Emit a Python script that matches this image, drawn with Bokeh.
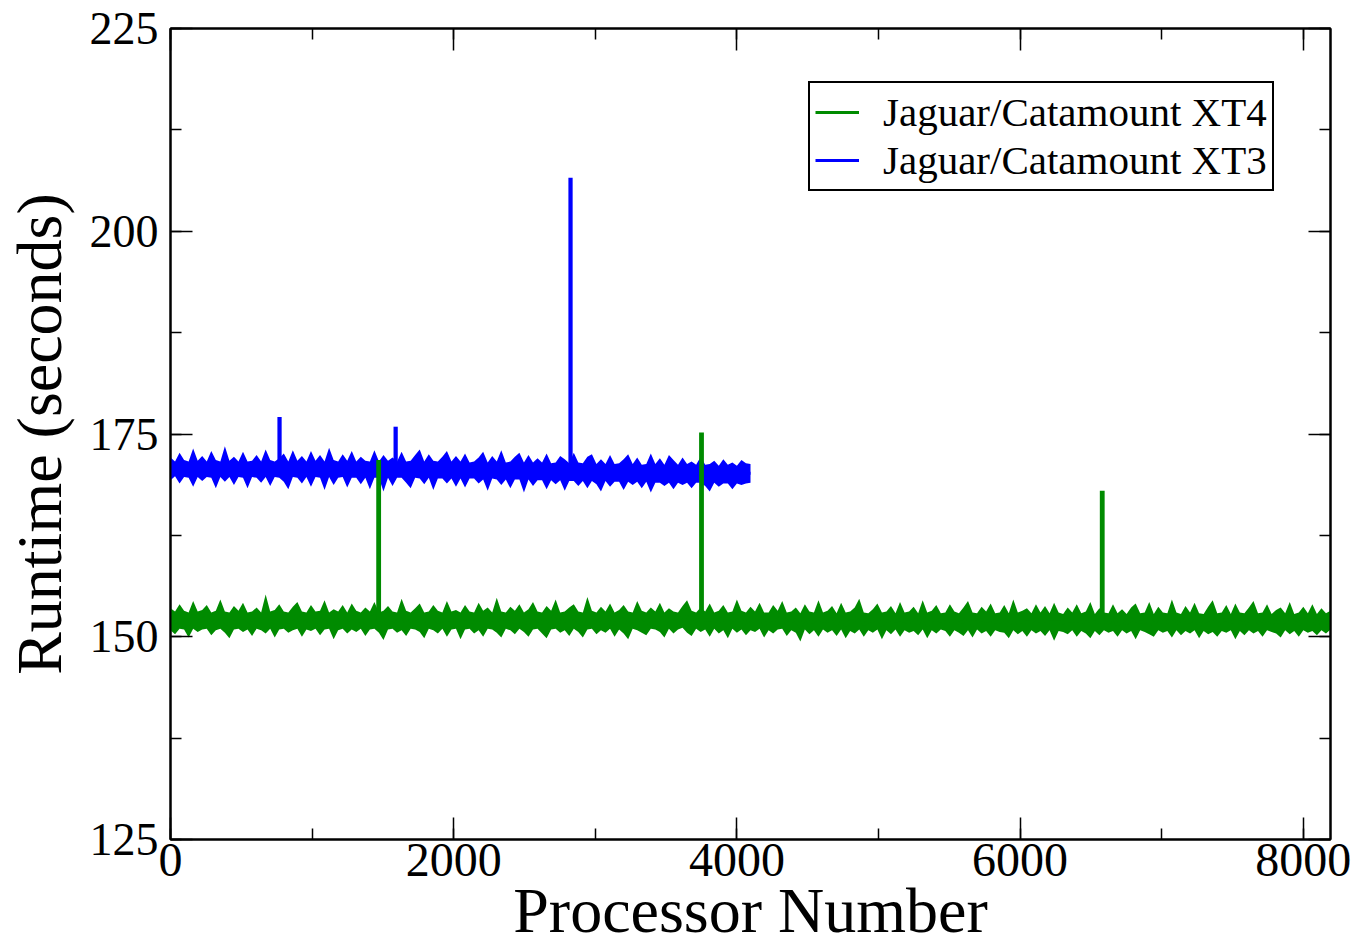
from bokeh.plotting import figure
from bokeh.models import (Range1d, SingleIntervalTicker, LinearAxis, Legend, LegendItem,
                          CustomLabelingPolicy)
from bokeh.embed import file_html
from bokeh.resources import INLINE

# ---------------- data ----------------
STEP = 32
xt4_proc = list(range(0, 8193, STEP))
xt4_upper = [
    153.5,153.1,154.0,153.2,153.0,154.4,153.1,153.3,153.9,153.0,153.2,154.6,153.1,153.0,153.8,153.2,
    154.2,153.0,153.1,153.6,153.0,155.2,153.1,153.3,154.0,153.1,153.0,153.7,154.3,153.1,153.0,153.9,
    153.1,153.2,154.5,153.0,153.4,153.1,153.9,153.0,154.1,153.2,153.0,153.6,153.1,154.3,153.0,153.2,
    153.8,153.1,153.0,154.7,153.2,153.0,153.5,154.1,153.0,153.1,153.9,153.2,153.0,154.4,153.1,153.3,
    153.0,153.9,153.1,153.0,154.2,153.2,153.6,153.0,154.8,153.1,153.0,153.7,153.2,154.0,153.0,153.4,
    154.3,153.1,153.0,153.8,153.2,154.6,153.0,153.1,153.6,154.0,153.1,153.0,154.9,153.2,153.0,153.7,
    153.1,154.1,153.0,153.3,153.9,153.1,153.0,154.4,153.2,153.0,153.6,153.1,154.2,153.0,153.5,153.1,
    153.0,153.8,154.5,153.2,153.0,153.6,153.1,154.1,153.0,153.2,153.9,153.0,153.1,154.6,153.2,153.0,
    153.7,153.1,154.2,153.0,153.0,153.9,153.2,154.4,153.0,153.1,153.6,152.9,154.0,153.1,153.0,154.5,
    153.0,153.2,153.8,152.9,154.2,153.0,153.1,153.6,154.7,153.0,152.9,153.4,154.1,153.0,153.1,153.8,
    152.9,154.3,153.0,153.1,153.7,152.9,154.5,153.0,153.2,153.9,152.9,153.0,154.0,153.1,152.9,153.6,
    154.4,153.0,152.9,153.7,153.1,154.1,152.9,153.0,153.9,152.9,154.6,153.0,153.2,153.5,152.9,154.0,
    153.0,153.8,152.9,154.2,153.0,152.8,153.6,153.0,154.0,152.9,153.1,154.3,152.8,153.5,153.0,152.9,
    154.0,152.9,153.4,152.8,153.6,154.1,152.9,153.0,154.3,152.8,153.7,153.0,152.9,154.6,153.0,152.8,
    153.8,153.0,154.2,152.9,152.8,153.7,154.5,152.9,153.0,153.9,152.8,154.1,153.0,152.9,153.6,154.4,
    152.9,153.0,154.0,152.8,153.3,153.6,152.9,154.3,152.8,153.0,153.7,152.9,154.0,152.8,153.5,152.9,
    153.2,
]
xt4_lower = [
    150.8,150.3,151.0,150.9,149.9,151.0,150.6,150.9,151.0,150.2,150.8,151.0,150.5,149.8,150.9,151.0,
    150.6,150.9,150.1,151.0,150.8,150.4,151.0,149.9,150.9,151.0,150.5,150.8,151.0,150.0,150.9,150.7,
    151.0,150.2,150.9,151.0,149.7,150.8,151.0,150.4,150.9,150.6,151.0,150.1,150.9,151.0,150.5,149.6,
    150.9,151.0,150.5,150.8,150.1,151.0,150.9,150.6,149.8,151.0,150.8,150.4,151.0,150.0,150.9,151.0,
    149.7,150.9,151.0,150.4,150.8,150.0,151.0,150.9,150.5,149.9,151.0,150.8,150.3,151.0,150.6,150.0,
    150.9,151.0,150.4,149.8,150.9,151.0,150.5,150.8,150.1,151.0,150.6,149.9,150.9,151.0,150.3,150.8,
    150.5,151.0,150.0,150.9,150.4,149.7,151.0,150.8,150.5,150.2,151.0,150.9,150.6,149.9,151.0,150.4,
    150.9,151.1,150.5,150.1,151.0,150.6,150.9,150.0,151.0,150.4,150.8,149.8,151.0,150.5,150.9,150.2,
    150.8,150.6,151.0,149.9,150.8,150.4,150.9,151.0,150.1,150.8,150.5,149.4,150.9,150.3,150.8,150.0,
    150.9,150.5,150.8,150.1,150.9,149.8,150.7,150.4,150.9,150.0,150.8,150.5,150.9,149.7,150.8,150.3,
    150.9,150.0,150.8,150.5,150.7,150.2,150.9,149.8,150.8,150.4,150.9,150.7,150.0,150.8,150.5,150.1,
    150.8,149.9,150.9,150.4,150.7,150.0,150.8,150.6,150.5,149.8,150.8,150.3,150.7,150.0,150.8,150.4,
    150.7,150.1,150.8,149.5,150.7,150.6,150.3,150.8,150.0,150.7,150.4,149.8,150.7,150.2,150.8,150.5,
    150.7,150.0,150.8,150.4,150.7,149.7,150.8,150.6,150.3,150.0,150.8,150.5,150.7,149.9,150.8,150.2,
    150.7,150.4,150.8,149.8,150.7,150.3,150.6,150.0,150.7,150.5,150.8,149.7,150.7,150.2,150.8,150.4,
    150.7,150.0,150.8,150.6,150.4,149.9,150.8,150.3,150.7,150.0,150.8,150.5,150.7,150.2,150.8,150.4,
    150.9,
]
xt4_spike_proc = [1470, 3750, 6580]
xt4_spike_top = [171.8, 175.2, 168.0]
xt4_base = 152.0

xt3_proc = list(range(0, 4097, STEP))
xt3_upper = [
    172.1,171.6,172.7,171.8,171.6,173.2,171.7,172.3,171.6,172.9,171.8,171.6,173.5,171.7,172.2,171.6,
    172.8,171.6,171.7,172.4,171.6,173.1,171.8,171.6,172.0,172.6,171.6,173.0,171.7,172.3,171.6,172.9,
    171.7,172.4,171.6,173.3,171.8,171.6,172.5,171.7,172.9,171.6,172.2,171.7,171.6,173.0,171.6,172.4,
    171.7,172.1,171.6,172.8,171.6,171.7,172.4,173.1,171.6,172.5,171.7,171.6,172.2,172.9,171.6,172.3,
    171.6,172.6,171.5,171.6,172.1,172.8,171.5,172.3,171.6,173.0,171.5,171.6,172.2,172.7,171.5,172.4,
    171.5,172.0,171.5,172.6,171.4,171.5,172.3,171.9,171.4,172.7,171.5,171.4,172.2,172.5,171.3,171.9,
    171.3,172.4,171.3,171.4,171.9,172.5,171.3,172.1,171.2,171.3,172.6,171.3,172.0,171.2,172.4,171.8,
    171.2,172.1,171.3,171.6,171.2,172.2,171.2,171.3,171.7,171.1,171.9,171.2,171.5,171.1,171.8,171.4,
    171.3,
]
xt3_lower = [
    169.3,169.8,168.9,169.7,169.6,168.5,169.7,169.2,169.7,169.6,168.3,169.7,169.1,169.7,168.7,169.7,
    169.6,168.3,169.7,169.6,169.0,169.7,168.6,169.7,169.6,169.1,168.2,169.7,169.6,168.9,169.7,168.5,
    169.7,169.6,168.1,169.7,168.7,169.6,169.7,168.4,169.6,169.6,168.8,169.6,168.2,169.6,169.6,167.9,
    169.6,168.6,169.6,169.6,169.0,168.3,169.6,169.5,168.8,169.6,168.1,169.5,169.5,168.9,169.5,168.5,
    169.5,168.4,169.5,169.5,168.9,169.4,168.0,169.5,169.4,168.7,169.4,168.3,169.4,169.4,167.8,169.4,
    168.6,169.3,169.3,168.2,169.3,168.8,169.3,168.0,169.2,169.2,168.6,169.2,168.3,169.2,168.8,167.9,
    169.2,168.5,169.1,169.1,168.1,169.1,168.7,169.1,168.3,169.1,167.8,169.0,169.0,168.6,169.0,168.2,
    169.0,168.7,169.0,168.3,169.0,169.0,168.6,167.9,169.0,168.5,168.9,168.9,168.2,168.9,168.7,168.9,
    169.0,
]
xt3_spike_proc = [770, 1590, 2825]
xt3_spike_top = [177.1, 175.9, 206.6]
xt3_base = 170.5

series_labels = ["Jaguar/Catamount XT4", "Jaguar/Catamount XT3"]
x_label = "Processor Number"
y_label = "Runtime (seconds)"

GREEN = "#008b00"
BLUE = "#0000ff"
FONT = "Liberation Serif"

# ---------------- figure ----------------
p = figure(width=1357, height=948, output_backend="svg", toolbar_location=None,
           x_range=Range1d(0, 8192), y_range=Range1d(125, 225),
           min_border_left=169, min_border_right=27, min_border_top=28, min_border_bottom=108)
p.grid.visible = False
p.outline_line_color = "black"
p.outline_line_width = 2
p.background_fill_color = "white"
p.border_fill_color = "white"

xt3_mid = [(a + b) / 2 for a, b in zip(xt3_upper, xt3_lower)]
xt4_mid = [(a + b) / 2 for a, b in zip(xt4_upper, xt4_lower)]

# XT3 (blue) drawn first, XT4 (green) on top
p.varea(x=xt3_proc, y1=xt3_lower, y2=xt3_upper, fill_color=BLUE)
b_line = p.line(xt3_proc, xt3_mid, line_color=BLUE, line_width=3)
p.vbar(x=xt3_spike_proc, top=xt3_spike_top, bottom=[xt3_base] * len(xt3_spike_proc),
       width=30, fill_color=BLUE, line_color=None)

p.varea(x=xt4_proc, y1=xt4_lower, y2=xt4_upper, fill_color=GREEN)
g_line = p.line(xt4_proc, xt4_mid, line_color=GREEN, line_width=3)
p.vbar(x=xt4_spike_proc, top=xt4_spike_top, bottom=[xt4_base] * len(xt4_spike_proc),
       width=34, fill_color=GREEN, line_color=None)

# ---------------- axes ----------------
no_labels = CustomLabelingPolicy(code="""
const n = indices.size
for (let i = 0; i < n; i++) { indices.unset(i) }
return indices
""")

def style_axis(ax, labels=True):
    ax.axis_line_color = "black"
    ax.axis_line_width = 2
    ax.major_tick_line_color = "black"
    ax.minor_tick_line_color = "black"
    ax.major_tick_line_width = 1.5
    ax.minor_tick_line_width = 1.5
    ax.major_tick_in = 22
    ax.major_tick_out = 0
    ax.minor_tick_in = 11
    ax.minor_tick_out = 0
    ax.major_label_text_font = FONT
    ax.major_label_text_color = "black"
    ax.axis_label_text_font = FONT
    ax.axis_label_text_font_style = "normal"
    ax.axis_label_text_color = "black"
    if not labels:
        ax.major_label_policy = no_labels
        ax.major_label_text_font_size = "10px"
        ax.major_label_standoff = 0

xb = p.xaxis[0]
xb.ticker = SingleIntervalTicker(interval=2000, num_minor_ticks=2)
style_axis(xb)
xb.major_label_text_font_size = "48px"
xb.major_label_standoff = 4
xb.axis_label = x_label
xb.axis_label_text_font_size = "64px"
xb.axis_label_standoff = -4

yl = p.yaxis[0]
yl.ticker = SingleIntervalTicker(interval=25, num_minor_ticks=2)
style_axis(yl)
yl.major_label_text_font_size = "46px"
yl.major_label_standoff = 12
yl.axis_label = y_label
yl.axis_label_text_font_size = "64px"
yl.axis_label_standoff = 12

xt = LinearAxis(ticker=SingleIntervalTicker(interval=2000, num_minor_ticks=2))
style_axis(xt, labels=False)
p.add_layout(xt, "above")
yr = LinearAxis(ticker=SingleIntervalTicker(interval=25, num_minor_ticks=2))
style_axis(yr, labels=False)
p.add_layout(yr, "right")

# ---------------- legend ----------------
legend = Legend(items=[LegendItem(label=series_labels[0], renderers=[g_line]),
                       LegendItem(label=series_labels[1], renderers=[b_line])],
                location=(638, 648))
legend.label_text_font = FONT
legend.label_text_font_size = "41px"
legend.label_text_color = "black"
legend.glyph_width = 44
legend.glyph_height = 30
legend.label_standoff = 24
legend.padding = 5
legend.spacing = 0
legend.margin = 0
legend.border_line_color = "black"
legend.border_line_alpha = 1.0
legend.border_line_width = 2
legend.background_fill_color = "white"
legend.background_fill_alpha = 1.0
p.add_layout(legend)

open("out.html", "w").write(file_html(p, INLINE))
